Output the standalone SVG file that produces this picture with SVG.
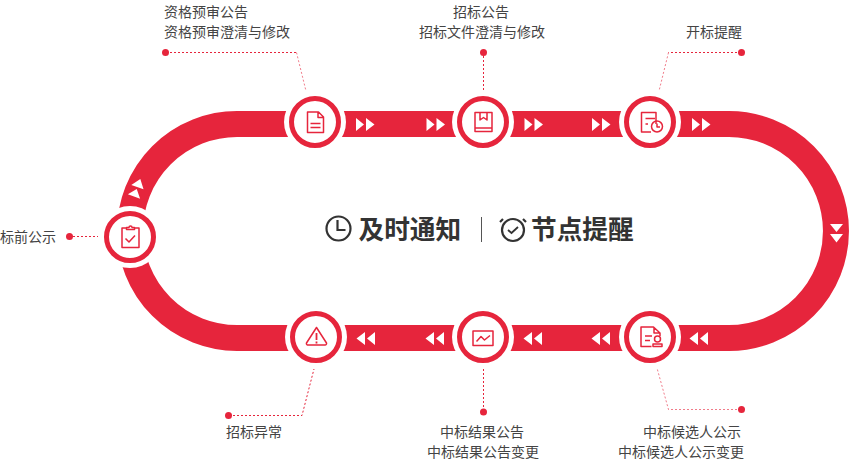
<svg xmlns="http://www.w3.org/2000/svg" width="849" height="465" viewBox="0 0 849 465">
<style>
.t{font-family:"Noto Sans CJK SC","Noto Sans",sans-serif;font-size:14px;fill:#444}
.b{font-family:"Noto Sans CJK SC","Noto Sans",sans-serif;font-size:25.700px;font-weight:700;fill:#333}
.e{text-anchor:end}.m{text-anchor:middle}
.d{fill:none;stroke:#e6253c;stroke-width:1;stroke-dasharray:2 2}
.l{opacity:.6}
.dot{fill:#e6253c}
.h{fill:#fff}
.r{fill:#fff;stroke:#e6253c;stroke-width:5}
.i{fill:none;stroke:#e6253c;stroke-width:1.500;stroke-linejoin:round}
.k{fill:none;stroke:#333;stroke-width:2.200}
</style>
<defs>
<g id="ar"><path d="M0-6.500 8 0 0 6.500ZM10-6.500 18.500 0 10 6.500Z" fill="#fff"/></g>
</defs>
<g id="connectors">
<path d="M237 124H729A107 107 0 0 1 729 338H237A107 107 0 0 1 237 124Z" fill="none" stroke="#e6253c" stroke-width="26"/>
<use href="#ar" x="356" y="124.500"/><use href="#ar" x="426.500" y="124.500"/><use href="#ar" x="524.500" y="124.500"/><use href="#ar" x="592" y="124.500"/><use href="#ar" x="692" y="124.500"/>
<use href="#ar" transform="translate(375 338.500) scale(-1 1)"/><use href="#ar" transform="translate(444 338.500) scale(-1 1)"/><use href="#ar" transform="translate(542 338.500) scale(-1 1)"/><use href="#ar" transform="translate(610 338.500) scale(-1 1)"/><use href="#ar" transform="translate(708 338.500) scale(-1 1)"/>
<use href="#ar" transform="translate(836.500 224) rotate(90)"/>
<use href="#ar" transform="translate(134 196.500) rotate(-70)"/>
<path class="d" d="M170 52.500H296.500"/><path class="d l" d="M296.500 52.500L306 91"/><circle class="dot" cx="165.500" cy="52.500" r="3.500"/>
<path class="d" d="M483.500 56V90"/><circle class="dot" cx="483.500" cy="52.500" r="3.500"/>
<path class="d" d="M737 52.500H668.500"/><path class="d l" d="M668.500 52.500L659 91"/><circle class="dot" cx="741.500" cy="52.500" r="3.500"/>
<path class="d" d="M73 236.500H98"/><circle class="dot" cx="69.500" cy="236.500" r="3.500"/>
<path class="d" d="M233 415.500H302L314 369"/><circle class="dot" cx="228.500" cy="415.500" r="3.500"/>
<path class="d" d="M483.500 369V408"/><circle class="dot" cx="483.500" cy="412" r="3.500"/>
<path class="d l" d="M737 409.500H668.500L657 368"/><circle class="dot" cx="741.500" cy="409.500" r="3.500"/>
</g>
<g id="n-pre"><circle class="h" cx="130" cy="237" r="31"/><circle class="r" cx="130" cy="237" r="23.500"/>
<path class="i" d="M126 228H122V247.500H139V228H135M126.500 229.500V227.500H129A1.500 1.500 0 0 1 132 227.500H134.500V229.500ZM125.500 238.500 129 242 135 235.500"/>
<text class="t e" x="56" y="241.500">标前公示</text></g>
<g id="n-qual"><circle class="h" cx="315" cy="122" r="31"/><circle class="r" cx="315" cy="122" r="23.500"/>
<path class="i" d="M307.500 112H318.500L323.500 117V132.500H307.500ZM318 112V117.500H323.500M310.500 123.500H320.500M310.500 127.500H320.500"/>
<text class="t" x="164" y="17">资格预审公告</text><text class="t" x="164" y="37">资格预审澄清与修改</text></g>
<g id="n-tender"><circle class="h" cx="483" cy="122" r="31"/><circle class="r" cx="483" cy="122" r="23.500"/>
<path class="i" d="M475 112.500H492V131.500H475ZM475 128H492M480 112.500V120L483.500 117.500 487 120V112.500"/>
<text class="t m" x="481" y="17">招标公告</text><text class="t m" x="482" y="37">招标文件澄清与修改</text></g>
<g id="n-open"><circle class="h" cx="650" cy="122" r="31"/><circle class="r" cx="650" cy="122" r="23.500"/>
<path class="i" d="M656 124V112.500H641.500V132H651M645.500 118.500H655M645.500 124H648"/><circle class="i" cx="657" cy="126.500" r="5.500"/><path class="i" d="M657 123.500V127H660"/>
<text class="t e" x="742" y="37">开标提醒</text></g>
<g id="n-err"><circle class="h" cx="316" cy="337" r="31"/><circle class="r" cx="316" cy="337" r="23.500"/>
<path class="i" d="M316.500 327.500 326.500 343A1.500 1.500 0 0 1 325 345H307.500A1.500 1.500 0 0 1 306.500 343Z"/><path d="M316.500 333V340M316.500 341.500V343.500" stroke="#e6253c" stroke-width="1.800" fill="none"/>
<text class="t" x="226" y="437">招标异常</text></g>
<g id="n-result"><circle class="h" cx="483" cy="337" r="31"/><circle class="r" cx="483" cy="337" r="23.500"/>
<path class="i" d="M473 331H493V345.500H473ZM476.500 341.500 481 336.500 484.500 340 490 335.500"/>
<text class="t m" x="482" y="437">中标结果公告</text><text class="t m" x="483" y="457">中标结果公告变更</text></g>
<g id="n-cand"><circle class="h" cx="650" cy="337" r="31"/><circle class="r" cx="650" cy="337" r="23.500"/>
<path class="i" d="M651.500 346.500H641V327H653.500L660 333V336M654 327.500V333H660M645 336H652M645 340.500H650"/><circle class="i" cx="657.500" cy="339" r="3"/><path class="i" d="M653 346.500V344H662V346.500Z"/>
<text class="t e" x="741" y="437">中标候选人公示</text><text class="t e" x="744" y="457">中标候选人公示变更</text></g>
<g id="title">
<circle class="k" cx="338.500" cy="228.500" r="12"/><path class="k" d="M337.500 220V230H345.500"/>
<text class="b" x="358.500" y="238.500">及时通知</text>
<path d="M481.500 217V242" stroke="#555" stroke-width="1"/>
<circle class="k" cx="513" cy="230" r="11"/><path class="k" d="M503 219 500 222M523 219 526 222"/><path d="M508 230 511.500 233 518 227" fill="none" stroke="#333" stroke-width="1.800"/>
<text class="b" x="531" y="238.500">节点提醒</text>
</g>
</svg>
